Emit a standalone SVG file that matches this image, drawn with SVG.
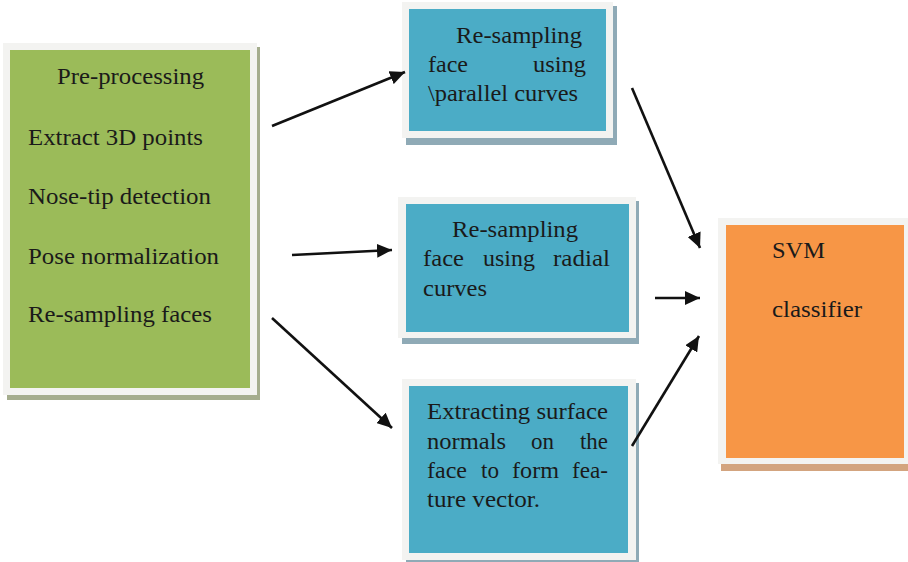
<svg xmlns="http://www.w3.org/2000/svg" width="908" height="562" viewBox="0 0 908 562">
  <style>
    .frame { fill: #f3f3f1; }
    .green { fill: #9bbb59; }
    .blue { fill: #4bacc6; }
    .orange { fill: #f79646; }
    .sh-green { fill: #a5ad8e; }
    .sh-blue { fill: #8faab6; }
    .sh-orange { fill: #d3a47f; }
    text { font-family: "Liberation Serif", "Times New Roman", serif; font-size: 23px; fill: #1a1a1a; }
    .conn { stroke: #111; stroke-width: 2.6; fill: none; marker-end: url(#arrow); }
  </style>
  <defs>
    <marker id="arrow" markerUnits="userSpaceOnUse" markerWidth="16" markerHeight="14" refX="15" refY="7" orient="auto">
      <path d="M0,0 L15,7 L0,14 Z" fill="#111"/>
    </marker>
  </defs>
  <rect width="908" height="562" fill="#ffffff"/>

  <g id="preprocessing">
    <rect class="sh-green" x="7" y="47" width="253" height="353"/>
    <rect class="frame" x="3" y="43" width="254" height="352"/>
    <rect class="green" x="10" y="50" width="240" height="338"/>
    <text x="57" y="84" textLength="147" lengthAdjust="spacingAndGlyphs">Pre-processing</text>
    <text x="28" y="145" textLength="175" lengthAdjust="spacingAndGlyphs">Extract 3D points</text>
    <text x="28" y="204" textLength="183" lengthAdjust="spacingAndGlyphs">Nose-tip detection</text>
    <text x="28" y="264" textLength="191" lengthAdjust="spacingAndGlyphs">Pose normalization</text>
    <text x="28" y="322" textLength="184" lengthAdjust="spacingAndGlyphs">Re-sampling faces</text>
  </g>

  <g id="parallel-curves">
    <rect class="sh-blue" x="406" y="6" width="211" height="139"/>
    <rect class="frame" x="402" y="2" width="211" height="136"/>
    <rect class="blue" x="409" y="9" width="197" height="122"/>
    <text x="456" y="43" textLength="126" lengthAdjust="spacingAndGlyphs">Re-sampling</text>
    <text x="428" y="72" textLength="40" lengthAdjust="spacingAndGlyphs">face</text>
    <text x="533" y="72" textLength="53" lengthAdjust="spacingAndGlyphs">using</text>
    <text x="428" y="101" textLength="150" lengthAdjust="spacingAndGlyphs">\parallel curves</text>
  </g>

  <g id="radial-curves">
    <rect class="sh-blue" x="402" y="201" width="237" height="143"/>
    <rect class="frame" x="398" y="197" width="238" height="141"/>
    <rect class="blue" x="406" y="204" width="223" height="128"/>
    <text x="452" y="237" textLength="126" lengthAdjust="spacingAndGlyphs">Re-sampling</text>
    <text x="423" y="266" textLength="41" lengthAdjust="spacingAndGlyphs">face</text>
    <text x="483" y="266" textLength="52" lengthAdjust="spacingAndGlyphs">using</text>
    <text x="553" y="266" textLength="57" lengthAdjust="spacingAndGlyphs">radial</text>
    <text x="423" y="296" textLength="64" lengthAdjust="spacingAndGlyphs">curves</text>
  </g>

  <g id="surface-normals">
    <rect class="sh-blue" x="406" y="383" width="233" height="181"/>
    <rect class="frame" x="402" y="379" width="234" height="181"/>
    <rect class="blue" x="409" y="386" width="219" height="167"/>
    <text x="427" y="419" textLength="181" lengthAdjust="spacingAndGlyphs">Extracting surface</text>
    <text x="427" y="449" textLength="79" lengthAdjust="spacingAndGlyphs">normals</text>
    <text x="531" y="449" textLength="23" lengthAdjust="spacingAndGlyphs">on</text>
    <text x="580" y="449" textLength="28" lengthAdjust="spacingAndGlyphs">the</text>
    <text x="427" y="478" textLength="40" lengthAdjust="spacingAndGlyphs">face</text>
    <text x="481" y="478" textLength="18" lengthAdjust="spacingAndGlyphs">to</text>
    <text x="512" y="478" textLength="47" lengthAdjust="spacingAndGlyphs">form</text>
    <text x="572" y="478" textLength="36" lengthAdjust="spacingAndGlyphs">fea-</text>
    <text x="427" y="507" textLength="113" lengthAdjust="spacingAndGlyphs">ture vector.</text>
  </g>

  <g id="svm-classifier">
    <rect class="sh-orange" x="721" y="222" width="187" height="249"/>
    <rect class="frame" x="718" y="218" width="190" height="246"/>
    <rect class="orange" x="726" y="225" width="178" height="233"/>
    <text x="772" y="258" textLength="53" lengthAdjust="spacingAndGlyphs">SVM</text>
    <text x="772" y="317" textLength="90" lengthAdjust="spacingAndGlyphs">classifier</text>
  </g>

  <g id="connectors">
    <line class="conn" x1="272" y1="126" x2="405" y2="72"/>
    <line class="conn" x1="292" y1="255" x2="392" y2="250"/>
    <line class="conn" x1="272" y1="318" x2="392" y2="428"/>
    <line class="conn" x1="632" y1="88" x2="700" y2="248"/>
    <line class="conn" x1="655" y1="298" x2="700" y2="298"/>
    <line class="conn" x1="632" y1="446" x2="699" y2="336"/>
  </g>
</svg>
